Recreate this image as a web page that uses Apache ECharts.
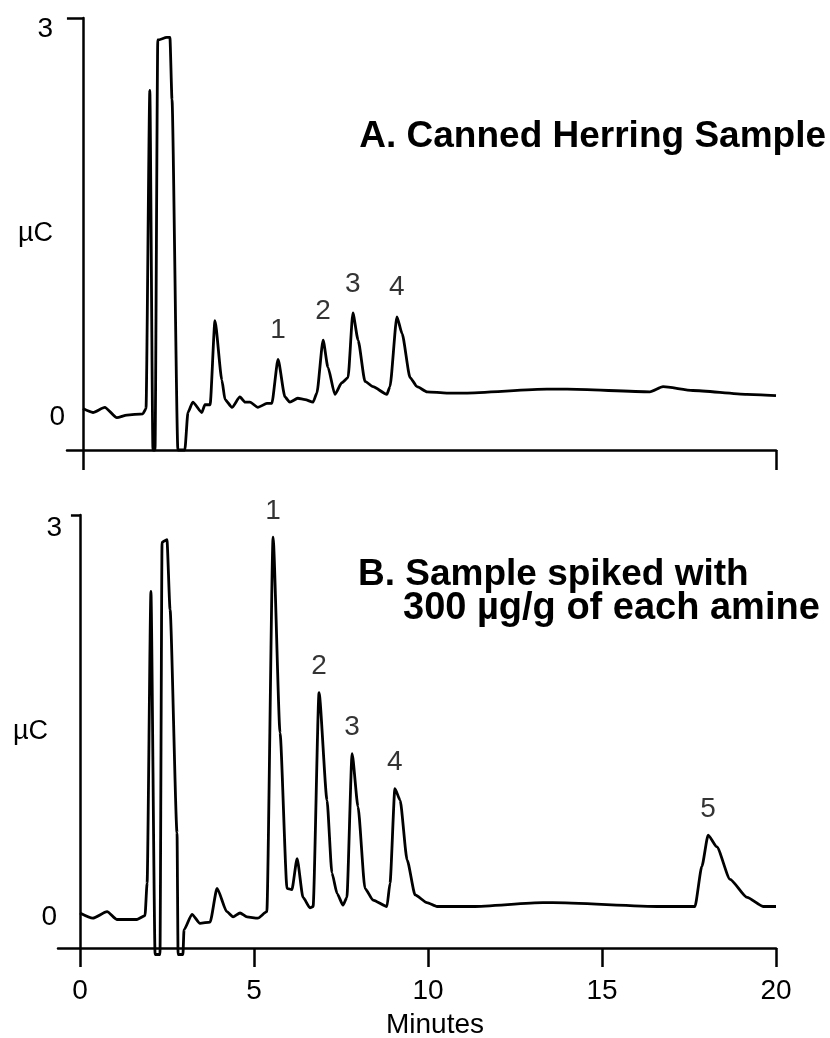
<!DOCTYPE html>
<html>
<head>
<meta charset="utf-8">
<script src="https://cdn.jsdelivr.net/npm/echarts@6/dist/echarts.min.js"></script>
<style>
  html, body { margin: 0; padding: 0; background: #fff; }
  #chart { width: 830px; height: 1038px; }
</style>
</head>
<body>
<div id="chart"></div>
<script>
// Chromatogram A: canned herring sample (minutes, µC)
const timeA = [0.00, 0.29, 0.63, 0.98, 1.27, 1.73, 1.82, 1.93, 2.02, 2.08, 2.16, 2.42, 2.51, 2.57, 2.74, 2.94,
  3.03, 3.17, 3.43, 3.52, 3.67, 3.81, 4.01, 4.10, 4.30, 4.53, 4.68, 4.82, 5.05, 5.31, 5.45, 5.63, 5.83, 5.97,
  6.20, 6.41, 6.64, 6.75, 6.93, 7.07, 7.27, 7.47, 7.65, 7.79, 7.94, 8.14, 8.37, 8.77, 8.86, 9.06, 9.21, 9.44,
  9.64, 9.93, 10.50, 11.02, 13.39, 13.97, 16.36, 16.74, 17.60, 19.16, 20.00];
const signalA = [-0.02, -0.05, -0.01, -0.09, -0.07, -0.06, -0.02, 2.44, -0.34, -0.34, 2.83, 2.85, 2.85, 2.37, -0.34, -0.34,
  -0.05, 0.03, -0.05, 0.01, 0.01, 0.66, 0.20, 0.05, -0.01, 0.07, 0.03, 0.03, -0.01, 0.02, 0.02, 0.36, 0.07, 0.03,
  0.06, 0.05, 0.03, 0.10, 0.51, 0.30, 0.09, 0.18, 0.22, 0.72, 0.51, 0.19, 0.15, 0.09, 0.15, 0.69, 0.56, 0.22,
  0.15, 0.11, 0.10, 0.10, 0.13, 0.13, 0.11, 0.15, 0.12, 0.09, 0.08];

// Chromatogram B: sample spiked with 300 µg/g of each amine
const timeB = [0.00, 0.37, 0.78, 1.06, 1.64, 1.87, 1.93, 2.04, 2.16, 2.30, 2.36, 2.50, 2.59, 2.79, 2.82, 2.96,
  2.99, 3.22, 3.45, 3.74, 3.94, 4.22, 4.40, 4.60, 4.80, 5.11, 5.37, 5.55, 5.75, 5.95, 6.09, 6.24, 6.41, 6.61,
  6.70, 6.87, 7.10, 7.24, 7.39, 7.56, 7.67, 7.82, 7.99, 8.19, 8.42, 8.82, 8.91, 9.05, 9.20, 9.40, 9.63, 9.97,
  10.26, 11.29, 13.30, 13.59, 16.67, 17.67, 17.87, 18.05, 18.30, 18.68, 19.17, 19.63, 20.00];
const signalB = [-0.07, -0.11, -0.06, -0.12, -0.12, -0.09, 0.16, 2.41, -0.39, -0.39, 2.79, 2.81, 2.27, 0.55, -0.39, -0.39,
  -0.20, -0.08, -0.15, -0.14, 0.12, -0.06, -0.10, -0.07, -0.10, -0.11, -0.06, 2.83, 1.32, 0.12, 0.11, 0.35, 0.05, -0.03,
  -0.02, 1.63, 0.80, 0.24, 0.08, -0.01, 0.05, 1.16, 0.75, 0.12, 0.03, -0.02, 0.16, 0.89, 0.80, 0.34, 0.07, 0.01,
  -0.02, -0.02, 0.01, 0.01, -0.02, -0.02, 0.29, 0.53, 0.44, 0.19, 0.05, -0.02, -0.02];

// Numbered amine peaks (apex time, apex signal)
const peakNamesA = ['1', '2', '3', '4'];
const peakTimesA = [5.63, 6.93, 7.79, 9.06];
const peakValuesA = [0.36, 0.51, 0.72, 0.69];
const peakNamesB = ['1', '2', '3', '4', '5'];
const peakTimesB = [5.55, 6.87, 7.82, 9.05, 18.05];
const peakValuesB = [2.83, 1.63, 1.16, 0.89, 0.53];

// Axis ticks and labels
const timeTicks = [0, 5, 10, 15, 20];
const timeEnds = [0, 20];
const signalLabels = [0, 3];
const signalTopTick = [3];

const FONT = '"Liberation Sans", Arial, Helvetica, sans-serif';
const INK = '#000';

const zip = (xs, ys) => xs.map((x, i) => [x, ys[i]]);

function traceSeries(idx, xs, ys) {
  return {
    type: 'line', xAxisIndex: idx, yAxisIndex: idx,
    data: zip(xs, ys), showSymbol: false, symbol: 'none', clip: false,
    smooth: 0.2, smoothMonotone: 'x',
    lineStyle: { color: INK, width: 2.8, join: 'round' }, z: 3
  };
}
function peakSeries(idx, xs, ys, names, dist) {
  return {
    type: 'scatter', xAxisIndex: idx, yAxisIndex: idx,
    data: xs.map((x, i) => ({ value: [x, ys[i]], name: names[i] })),
    symbolSize: 0, silent: true,
    label: { show: true, position: 'top', distance: dist, formatter: p => p.name,
             color: INK, fontSize: 28, fontFamily: FONT }
  };
}
// Value axis crossing the time axis at t = 0; labels 0 and 3, tick only at 3
function signalAxis(idx, tickLen, margin, rich3, rich0, nameGap) {
  return {
    gridIndex: idx, type: 'value', min: -0.34, max: 3,
    axisLine: { show: true, onZero: true, lineStyle: { color: INK, width: 2.5 } },
    axisTick: { show: true, customValues: signalTopTick, length: tickLen, inside: false,
                lineStyle: { color: INK, width: 2.5 } },
    axisLabel: { customValues: signalLabels, margin: margin, color: INK, fontSize: 28, fontFamily: FONT,
                 formatter: v => (v === 3 ? '{a|3}' : '{b|0}'),
                 rich: { a: rich3, b: rich0 } },
    splitLine: { show: false },
    name: 'µC', nameLocation: 'middle', nameRotate: 0, nameGap: nameGap, nameMoveOverlap: false,
    nameTextStyle: { color: INK, fontSize: 27, fontFamily: FONT }
  };
}

const option = {
  animation: false,
  backgroundColor: '#fff',
  title: [
    { text: 'A. Canned Herring Sample', right: 4, top: 118, padding: 0,
      textStyle: { color: INK, fontSize: 37, fontWeight: 'bold', fontFamily: FONT } },
    { text: 'B. Sample spiked with', left: 358, top: 556, padding: 0,
      textStyle: { color: INK, fontSize: 37, fontWeight: 'bold', fontFamily: FONT } },
    { text: '300 µg/g of each amine', left: 403, top: 590, padding: 0,
      textStyle: { color: INK, fontSize: 38, fontWeight: 'bold', fontFamily: FONT } }
  ],
  grid: [
    { left: 67, top: 18, width: 709, height: 432, containLabel: false, outerBoundsMode: 'none' },
    { left: 58, top: 515, width: 718, height: 433, containLabel: false, outerBoundsMode: 'none' }
  ],
  xAxis: [
    { gridIndex: 0, type: 'value', min: -0.46, max: 20,
      axisLine: { onZero: false, lineStyle: { color: INK, width: 2.5 } },
      axisTick: { show: true, customValues: timeEnds, length: 20, inside: false,
                  lineStyle: { color: INK, width: 2.5 } },
      axisLabel: { show: false }, splitLine: { show: false } },
    { gridIndex: 1, type: 'value', min: -0.63, max: 20,
      axisLine: { onZero: false, lineStyle: { color: INK, width: 2.5 } },
      axisTick: { show: true, customValues: timeTicks, length: 19, inside: false,
                  lineStyle: { color: INK, width: 2.5 } },
      axisLabel: { customValues: timeTicks, margin: 29, color: INK, fontSize: 28, fontFamily: FONT },
      splitLine: { show: false },
      name: 'Minutes', nameLocation: 'middle', nameGap: 63, nameMoveOverlap: false,
      nameTextStyle: { color: INK, fontSize: 28, fontFamily: FONT, padding: [0, 0, 0, 36] } }
  ],
  yAxis: [
    signalAxis(0, 16, 2, { fontSize: 28, fontFamily: FONT, color: INK, padding: [22, 12, 0, 0] },
                         { fontSize: 28, fontFamily: FONT, color: INK, padding: [22, 0, 0, 0] }, 14),
    signalAxis(1, 9, -4, { fontSize: 28, fontFamily: FONT, color: INK, padding: [26, 0, 0, 0] },
                         { fontSize: 28, fontFamily: FONT, color: INK, padding: [26, 5, 0, 0] }, 10)
  ],
  series: [
    traceSeries(0, timeA, signalA),
    traceSeries(1, timeB, signalB),
    peakSeries(0, peakTimesA, peakValuesA, peakNamesA, 15),
    peakSeries(1, peakTimesB, peakValuesB, peakNamesB, 12)
  ]
};

const chart = echarts.init(document.getElementById('chart'), null, { renderer: 'canvas' });
chart.setOption(option);
</script>
</body>
</html>
